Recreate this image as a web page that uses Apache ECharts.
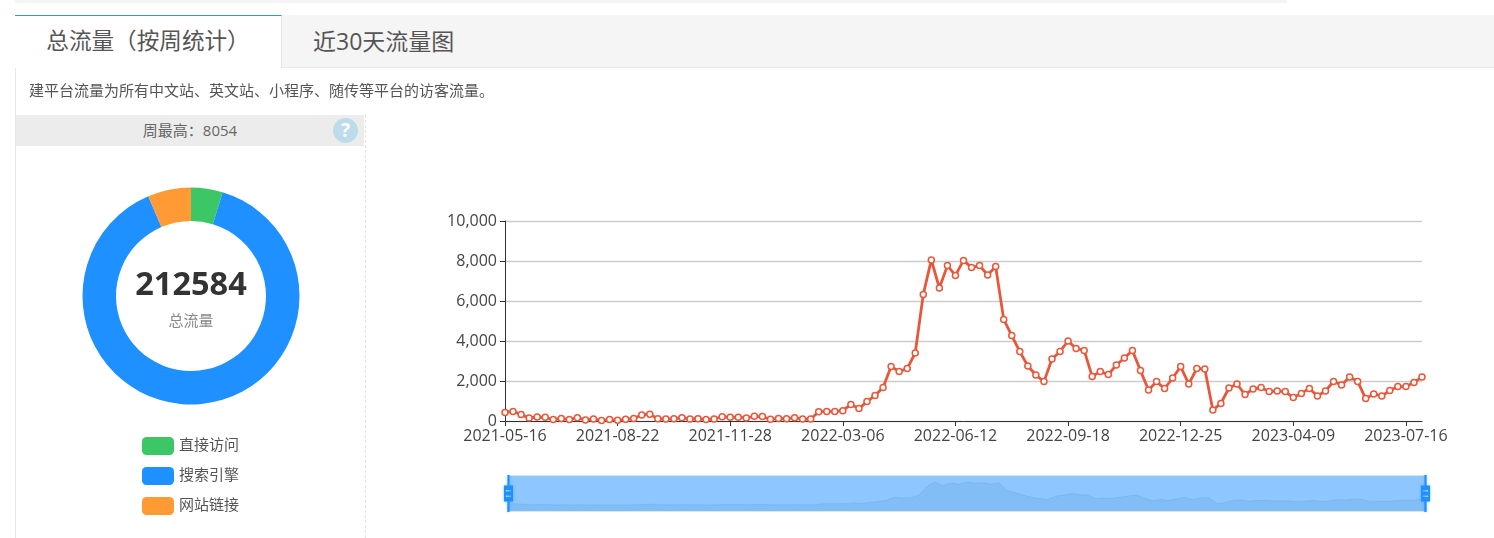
<!DOCTYPE html>
<html>
<head>
<meta charset="utf-8">
<script src="https://cdn.jsdelivr.net/npm/echarts@6/dist/echarts.min.js"></script>
<style>
html,body{margin:0;padding:0;width:1494px;height:538px;overflow:hidden;background:#fff;font-family:"Open Sans","Noto Sans CJK SC",sans-serif;}
#chart{position:absolute;left:0;top:0;width:1494px;height:538px;}
.abs{position:absolute;box-sizing:border-box;}
</style>
</head>
<body>
<div id="chart"></div>
<div class="abs" style="left:15px;top:0;width:1272px;height:3px;background:#f4f4f4"></div>
<div class="abs" style="left:15px;top:15px;width:1479px;height:52px;background:#f5f5f5"></div>
<div class="abs" style="left:15px;top:67px;width:1479px;height:1px;background:#e8e8e8"></div>
<div class="abs" style="left:15px;top:15px;width:267px;height:53px;background:#fff;border-top:1px solid #3a8ee6;border-right:1px solid #e8e8e8;text-align:center;font-size:22.6px;line-height:50px;color:#555;padding-right:0;white-space:nowrap">总流量（按周统计）</div>
<div class="abs" style="left:313px;top:15px;height:52px;font-size:23px;line-height:52px;color:#555;white-space:nowrap">近30天流量图</div>
<div class="abs" style="left:15px;top:68px;width:1px;height:470px;background:#e8e8e8"></div>
<div class="abs" style="left:29px;top:80px;font-size:15px;line-height:20px;color:#555;white-space:nowrap">建平台流量为所有中文站、英文站、小程序、随传等平台的访客流量。</div>
<div class="abs" style="left:16px;top:115px;width:348px;height:31px;background:#ececec;text-align:center;font-size:15px;line-height:31px;color:#666">周最高：8054</div>
<div class="abs" style="left:333px;top:118px;width:25px;height:25px;border-radius:50%;background:#bcdcec;color:#fff;font-weight:bold;font-size:19px;line-height:25px;text-align:center">?</div>
<div class="abs" style="left:365px;top:115px;width:0;height:423px;border-left:1px dashed #e2e2e2"></div>
<script>
const weeks = [
"2021-05-16","2021-05-23","2021-05-30","2021-06-06","2021-06-13","2021-06-20","2021-06-27","2021-07-04","2021-07-11","2021-07-18",
"2021-07-25","2021-08-01","2021-08-08","2021-08-15","2021-08-22","2021-08-29","2021-09-05","2021-09-12","2021-09-19","2021-09-26",
"2021-10-03","2021-10-10","2021-10-17","2021-10-24","2021-10-31","2021-11-07","2021-11-14","2021-11-21","2021-11-28","2021-12-05",
"2021-12-12","2021-12-19","2021-12-26","2022-01-02","2022-01-09","2022-01-16","2022-01-23","2022-01-30","2022-02-06","2022-02-13",
"2022-02-20","2022-02-27","2022-03-06","2022-03-13","2022-03-20","2022-03-27","2022-04-03","2022-04-10","2022-04-17","2022-04-24",
"2022-05-01","2022-05-08","2022-05-15","2022-05-22","2022-05-29","2022-06-05","2022-06-12","2022-06-19","2022-06-26","2022-07-03",
"2022-07-10","2022-07-17","2022-07-24","2022-07-31","2022-08-07","2022-08-14","2022-08-21","2022-08-28","2022-09-04","2022-09-11",
"2022-09-18","2022-09-25","2022-10-02","2022-10-09","2022-10-16","2022-10-23","2022-10-30","2022-11-06","2022-11-13","2022-11-20",
"2022-11-27","2022-12-04","2022-12-11","2022-12-18","2022-12-25","2023-01-01","2023-01-08","2023-01-15","2023-01-22","2023-02-05",
"2023-02-12","2023-02-19","2023-02-26","2023-03-05","2023-03-12","2023-03-19","2023-03-26","2023-04-02","2023-04-09","2023-04-16",
"2023-04-23","2023-04-30","2023-05-07","2023-05-14","2023-05-21","2023-05-28","2023-06-04","2023-06-11","2023-06-18","2023-06-25",
"2023-07-02","2023-07-09","2023-07-16","2023-07-23","2023-07-30"];
const weeklyVisits = [
430,480,320,150,200,185,70,130,70,165,
50,100,30,70,40,85,130,300,340,115,
100,115,165,100,115,70,100,215,185,190,
150,235,220,85,130,115,165,100,100,465,
480,480,515,830,620,970,1280,1680,2730,2470,
2620,3400,6330,8054,6650,7770,7280,8030,7670,7770,
7300,7720,5080,4270,3470,2750,2300,1970,3100,3480,
4000,3620,3530,2220,2480,2320,2800,3150,3530,2520,
1550,1970,1620,2150,2720,1850,2620,2600,550,880,
1650,1850,1320,1600,1670,1480,1500,1470,1170,1380,
1630,1250,1500,1980,1800,2200,1980,1120,1350,1250,
1520,1720,1730,1930,2200];
const sourceNames = ["直接访问","搜索引擎","网站链接"];
const sourceValues = [10000,188884,13700];
const sourceColors = ["#3cc665","#1e90ff","#ff9a35"];
const totalVisits = "212584";
const totalLabel = "总流量";
const yTicks = [0,2000,4000,6000,8000,10000];

const fontFamily = '"Open Sans","Noto Sans CJK SC",sans-serif';
const chart = echarts.init(document.getElementById('chart'));
chart.setOption({
  animation:false,
  textStyle:{fontFamily},
  title:[
    {text:totalVisits,left:191,top:266,padding:0,textAlign:'center',textStyle:{fontSize:32.5,fontWeight:'bold',color:'#333',fontFamily,lineHeight:40}},
    {text:totalLabel,left:191,top:313,padding:0,textAlign:'center',textStyle:{fontSize:15,fontWeight:'normal',color:'#888',fontFamily,lineHeight:18}}
  ],
  legend:{
    orient:'vertical',left:142,top:437,itemWidth:32,itemHeight:18,itemGap:12,icon:'roundRect',
    data:sourceNames,textStyle:{fontSize:15,color:'#555',fontFamily},padding:0
  },
  grid:{left:505,top:221,width:917,height:200,containLabel:false},
  xAxis:{
    type:'category',boundaryGap:false,data:weeks,
    axisLine:{lineStyle:{color:'#333',width:1}},
    axisTick:{show:true,interval:13,length:5,lineStyle:{color:'#333'}},
    axisLabel:{interval:13,fontSize:16,color:'#444',margin:7,fontFamily,hideOverlap:false},
    splitLine:{show:false}
  },
  yAxis:{
    type:'value',min:yTicks[0],max:yTicks[yTicks.length-1],interval:yTicks[1],
    axisLine:{show:true,lineStyle:{color:'#333',width:1}},
    axisTick:{show:true,length:5,lineStyle:{color:'#333'}},
    axisLabel:{fontSize:16,color:'#444',margin:8,fontFamily,formatter:v=>v.toLocaleString('en-US')},
    splitLine:{show:true,lineStyle:{color:'#ccc',width:1.4}}
  },
  dataZoom:[{
    type:'slider',xAxisIndex:0,start:0,end:100,left:505,width:919,top:475,height:37,
    showDetail:false,brushSelect:false,moveHandleSize:0,
    backgroundColor:'rgba(47,69,84,0)',
    borderColor:'#dde3ea',
    fillerColor:'rgba(30,144,255,0.5)',
    handleIcon:'M8.2,13.6V3.9H6.3v9.7H3.1v14.9h3.3v9.7h1.8v-9.7h3.3V13.6H8.2z M9.7,24.4H4.8v-1.4h4.9V24.4z M9.7,19.1H4.8v-1.4h4.9V19.1z',
    handleSize:'100%',
    handleStyle:{color:'#1e90ff',borderColor:'#1e90ff',borderWidth:0,shadowBlur:3,shadowColor:'rgba(30,144,255,0.5)'},
    dataBackground:{lineStyle:{color:'#2f4554',opacity:0.12,width:1},areaStyle:{color:'#2f4554',opacity:0.1}},
    selectedDataBackground:{lineStyle:{color:'#2f4554',opacity:0.12,width:1},areaStyle:{color:'#2f4554',opacity:0.1}}
  }],
  series:[
    {
      type:'pie',center:[191,296],radius:[75,108.5],startAngle:90,clockwise:true,
      label:{show:false},labelLine:{show:false},silent:true,
      data:sourceNames.map((n,i)=>({name:n,value:sourceValues[i],itemStyle:{color:sourceColors[i]}}))
    },
    {
      type:'line',data:weeklyVisits,symbol:'circle',symbolSize:6,showAllSymbol:true,
      lineStyle:{color:'#e8573a',width:2.8},
      itemStyle:{color:'#fff',borderColor:'#e8573a',borderWidth:1.5}
    }
  ]
});
</script>
</body>
</html>
